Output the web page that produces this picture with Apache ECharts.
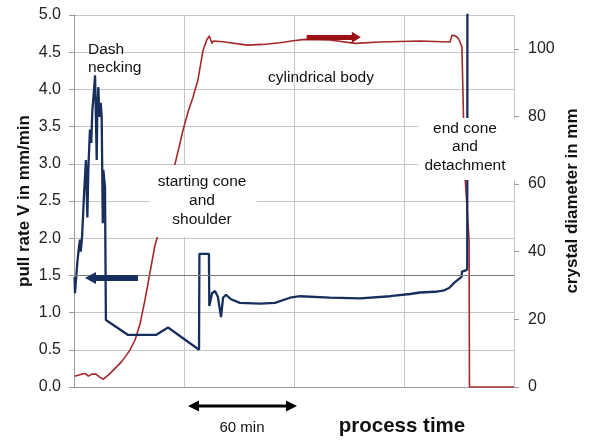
<!DOCTYPE html>
<html><head><meta charset="utf-8">
<script src="https://cdn.jsdelivr.net/npm/echarts@6/dist/echarts.min.js"></script>
<style>html,body{margin:0;padding:0;background:#fff}#c{width:592px;height:441px}</style>
</head><body><div id="c"></div>
<script>
// process time in minutes (x axis), pull rate V in mm/min (left), crystal diameter in mm (right)
const blueTime = [0.3,0.55,1.8,2.7,3.3,3.7,4.4,5.5,6.5,7.3,7.8,8.7,9.4,10,10.5,11.5,12.4,12.7,13.3,13.8,14.6,15.1,15.7,16,16.9,17.3,17.4,29.5,44.7,51.3,68.2,68.4,73.6,73.8,75.3,76.9,78.5,80.2,81.3,82.9,85.6,90.5,101.5,109.6,117.8,123.3,139.6,156,172.4,183.3,188.7,196.9,202,204.6,207.3,211.4,211.6,214.1,214.5,214.6];
const pullRate = [1.48,1.26,1.67,1.88,1.98,1.82,2.02,2.6,3.05,2.28,2.92,3.46,3.28,3.72,3.86,4.19,3.05,3.72,4.03,3.63,3.82,3.62,2.2,2.92,2.69,2.7,0.9,0.7,0.7,0.8,0.5,1.79,1.79,1.09,1.26,1.29,1.21,0.94,1.2,1.24,1.18,1.13,1.12,1.13,1.2,1.22,1.2,1.19,1.22,1.25,1.27,1.28,1.3,1.33,1.4,1.48,1.55,1.57,1.6,5.5];
const redTime = [0.3,2.3,4.2,6,7.8,9.7,12,13.8,16,18.7,22.4,26,28.7,30.5,33.3,36,38.7,41.5,44.2,46.9,49.6,52.4,55.6,59.5,62.2,64.9,67.6,70.4,72.4,73.8,74.6,75.3,76,81.3,94.4,103.1,112.4,119.5,126,139.6,153.3,166.9,188.7,205.1,206.2,207.8,209.5,210.6,211.6,212.2,212.4,213.3,214.4,215.5,215.7,240];
const diameter = [3.2,3.5,3.8,4.0,3.2,3.8,3.8,3.0,2.3,3.5,5.5,7.5,9.5,10.9,13.9,18.6,25.7,34,42,47,53.8,59.7,67.1,76,81.3,85.7,90.8,99.6,102.6,103.8,102.6,101.6,102.3,102.1,101.1,101.3,101.8,102.4,102.8,102.6,101.6,102,102.3,102,104,103.9,103.2,102,100.5,101,81,62,53,43.5,0,0];
const rightTickValues = [0,20,40,60,80,100];

const FONT = "'Liberation Sans', Arial, sans-serif";
const blueColor = '#182f5d';
const redColor = '#a3282c';
const gridColor = '#c6c6c6';
const axisColor = '#9a9a9a';

const chart = echarts.init(document.getElementById('c'), null, {renderer:'canvas'});
chart.setOption({
  animation: false,
  backgroundColor: '#fff',
  textStyle: {fontFamily: FONT},
  grid: {left: 74, right: 78, top: 15, bottom: 54, containLabel: false},
  xAxis: {
    type: 'value', min: 0, max: 240, interval: 60,
    axisLine: {show: true, lineStyle: {color: axisColor}},
    axisTick: {show: false},
    axisLabel: {show: false},
    splitLine: {show: true, lineStyle: {color: gridColor, width: 1}}
  },
  yAxis: [{
    type: 'value', min: 0, max: 5, interval: 0.5, position: 'left',
    name: 'pull rate V in mm/min', nameLocation: 'middle', nameGap: 41, nameRotate: 90, nameMoveOverlap: false,
    nameTextStyle: {fontFamily: FONT, fontSize: 17, fontWeight: 'bold', color: '#111'},
    axisLine: {show: true, lineStyle: {color: axisColor}},
    axisTick: {show: true, length: 5, lineStyle: {color: axisColor}},
    axisLabel: {fontFamily: FONT, fontSize: 16, color: '#222', margin: 13, formatter: v => v.toFixed(1)},
    splitLine: {show: true, lineStyle: {color: gridColor, width: 1}}
  }, {
    type: 'value', min: 0, max: 110, interval: 20, position: 'right',
    name: 'crystal diameter in mm', nameLocation: 'middle', nameGap: 50, nameRotate: 90, nameMoveOverlap: false,
    nameTextStyle: {fontFamily: FONT, fontSize: 17, fontWeight: 'bold', color: '#111'},
    axisLine: {show: false},
    axisTick: {show: true, length: 5, lineStyle: {color: axisColor}, customValues: rightTickValues},
    axisLabel: {fontFamily: FONT, fontSize: 16, color: '#222', margin: 14, customValues: rightTickValues},
    splitLine: {show: false}
  }],
  series: [{
    name: 'diameter', type: 'line', yAxisIndex: 1, showSymbol: false, symbol: 'none',
    data: redTime.map((t, i) => [t, diameter[i]]),
    lineStyle: {color: redColor, width: 1.6}, z: 3,
    markLine: {
      silent: true, animation: false, label: {show: false},
      symbol: ['none', 'none'],
      lineStyle: {color: '#9c0f12', width: 5, type: 'solid'},
      data: [[{coord: [126.9, 103.4]}, {coord: [154, 103.4], symbol: 'triangle', symbolSize: [11, 9]}]]
    }
  }, {
    name: 'pull rate', type: 'line', yAxisIndex: 0, showSymbol: false, symbol: 'none',
    data: blueTime.map((t, i) => [t, pullRate[i]]),
    lineStyle: {color: blueColor, width: 2.3}, z: 4,
    markLine: {
      silent: true, animation: false, label: {show: false},
      symbol: ['none', 'none'],
      data: [
        {yAxis: 1.5, lineStyle: {color: '#7a7a7a', width: 1, type: 'solid'}},
        [{coord: [34.9, 1.465], lineStyle: {color: blueColor, width: 6, type: 'solid'}},
         {coord: [9.0, 1.465], symbol: 'triangle', symbolSize: [12, 11]}]
      ]
    }
  }],
  graphic: [
    {type: 'rect', z: 100, shape: {x: 150, y: 165, width: 107, height: 72}, style: {fill: '#fff'}},
    {type: 'rect', z: 100, shape: {x: 418, y: 118, width: 99, height: 62}, style: {fill: '#fff'}},
    {type: 'text', z: 101, x: 88, y: 41, style: {text: 'Dash\nnecking', font: '15.5px ' + FONT, fill: '#111', lineHeight: 18, align: 'left', verticalAlign: 'top'}},
    {type: 'text', z: 101, x: 321, y: 78, style: {text: 'cylindrical body', font: '15.5px ' + FONT, fill: '#111', align: 'center', verticalAlign: 'middle'}},
    {type: 'text', z: 101, x: 202, y: 201, style: {text: 'starting cone\nand\nshoulder', font: '15.5px ' + FONT, fill: '#111', lineHeight: 19, align: 'center', verticalAlign: 'middle'}},
    {type: 'text', z: 101, x: 465, y: 147, style: {text: 'end cone\nand\ndetachment', font: '15.5px ' + FONT, fill: '#111', lineHeight: 18.5, align: 'center', verticalAlign: 'middle'}},
    {type: 'line', z: 101, shape: {x1: 196, y1: 406, x2: 289, y2: 406}, style: {stroke: '#000', lineWidth: 3}},
    {type: 'polygon', z: 101, shape: {points: [[188, 406], [199, 400.5], [199, 411.5]]}, style: {fill: '#000'}},
    {type: 'polygon', z: 101, shape: {points: [[297, 406], [286, 400.5], [286, 411.5]]}, style: {fill: '#000'}},
    {type: 'text', z: 101, x: 242, y: 428, style: {text: '60 min', font: '15px ' + FONT, fill: '#111', align: 'center', verticalAlign: 'middle'}},
    {type: 'text', z: 101, x: 402, y: 426, style: {text: 'process time', font: 'bold 20.5px ' + FONT, fill: '#111', align: 'center', verticalAlign: 'middle'}}
  ]
});
</script>
</body></html>
